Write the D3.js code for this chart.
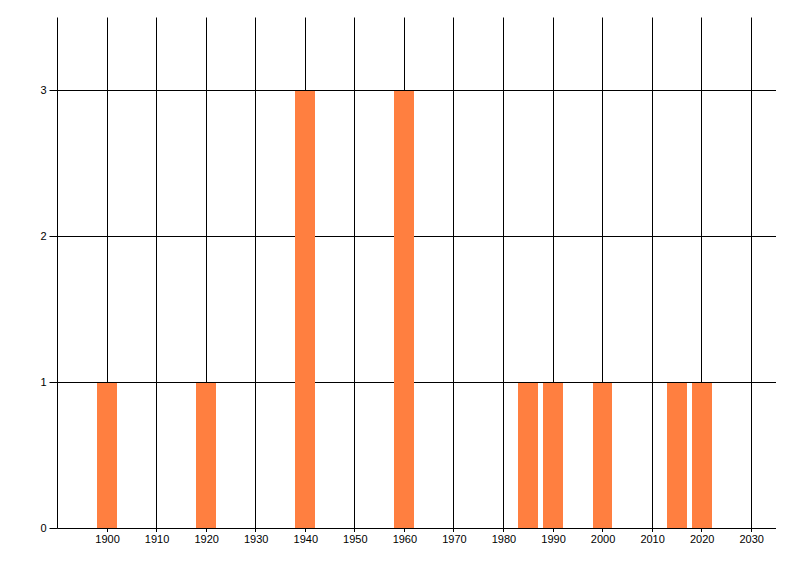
<!DOCTYPE html>
<html><head><meta charset="utf-8">
<script src="https://cdn.jsdelivr.net/npm/d3@7"></script>
<style>body{margin:0;background:#fff}svg text{font-family:"Liberation Sans",Arial,sans-serif;font-size:11px;fill:#000}</style>
</head><body><div id="chart"></div>
<script>
const years = [1900, 1920, 1940, 1960, 1985, 1990, 2000, 2015, 2020];
const counts = [1, 1, 3, 3, 1, 1, 1, 1, 1];
const xTicks = [1900, 1910, 1920, 1930, 1940, 1950, 1960, 1970, 1980, 1990, 2000, 2010, 2020, 2030];
const yTicks = [0, 1, 2, 3];
const barYears = 4;

(function () {
const W = 800, H = 576;
const pL = 57.5, pR = 776, pT = 17.5, pB = 528.5;
const svg = d3.select("#chart").append("svg").attr("width", W).attr("height", H);
const x = d3.scaleLinear().domain([1890, 2035]).range([pL, pR]);
const y = d3.scaleLinear().domain([0, 3.5]).range([pB, pT]);
const snap = v => Math.round(v - 0.5) + 0.5;

// vertical grid
const grid = svg.append("g").attr("stroke", "#000").attr("stroke-width", 1);
grid.selectAll(".vg").data(xTicks).join("line").attr("class", "vg")
  .attr("x1", d => snap(x(d))).attr("x2", d => snap(x(d)))
  .attr("y1", pT).attr("y2", pB + 3.5);
// horizontal grid
grid.selectAll(".hg").data(yTicks).join("line").attr("class", "hg")
  .attr("x1", pL).attr("x2", pR)
  .attr("y1", d => snap(y(d))).attr("y2", d => snap(y(d)));

// bars (over the grid)
svg.append("g").selectAll("rect").data(years).join("rect")
  .attr("x", (d) => Math.round(x(d - barYears / 2)))
  .attr("width", (d) => Math.round(x(d + barYears / 2)) - Math.round(x(d - barYears / 2)))
  .attr("y", (d, i) => snap(y(counts[i])) + 0.5)
  .attr("height", (d, i) => (snap(y(0)) - 0.5) - (snap(y(counts[i])) + 0.5))
  .attr("fill", "#FF7F40");

// y axis
const yAxis = d3.axisLeft(y).tickValues(yTicks).tickSize(8).tickPadding(3).tickFormat(d3.format("d"));
const gy = svg.append("g").attr("transform", `translate(${pL},0)`).call(yAxis);
gy.select(".domain").attr("d", `M0,${pT}V${pB}`).attr("stroke", "#000");
gy.selectAll(".tick").attr("transform", d => `translate(0,${snap(y(d))})`);
gy.selectAll("text").attr("font-family", null).attr("font-size", null).attr("dy", "0.35em");

// x axis labels
const xAxis = d3.axisBottom(x).tickValues(xTicks).tickSize(0).tickPadding(7).tickFormat(d3.format("d"));
const gx = svg.append("g").attr("transform", `translate(0,${pB})`).call(xAxis);
gx.select(".domain").remove();
gx.selectAll("text").attr("font-family", null).attr("font-size", null);
})();
</script></body></html>
